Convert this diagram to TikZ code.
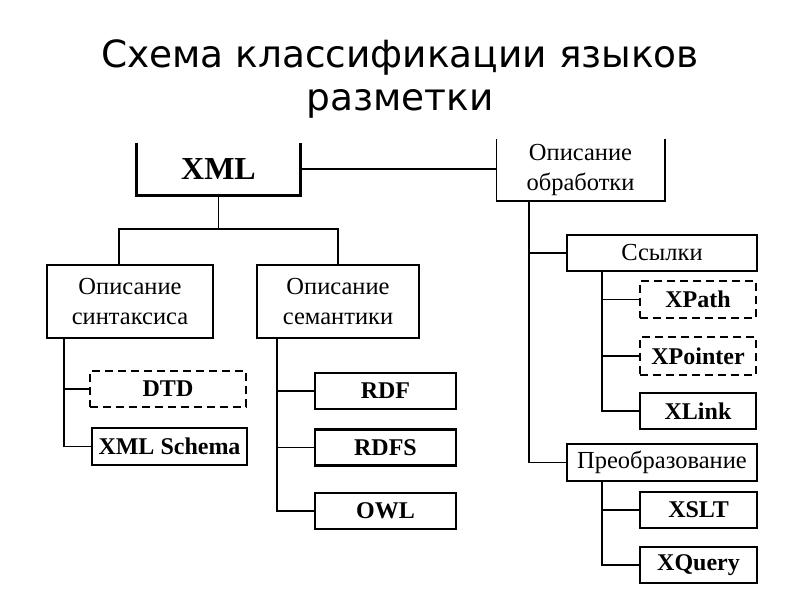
\documentclass[tikz,border=0pt]{standalone}
\usepackage{fontspec}
\setmainfont{Liberation Serif}
\newfontfamily\titlefont{DejaVu Sans}
\usepackage{tikz}
\usetikzlibrary{positioning,calc}

\begin{document}
\begin{tikzpicture}[
    x=1pt, y=-1pt,
    font=\fontsize{24.5}{30}\selectfont,
    group/.style={draw, line width=1.5pt, align=center, inner sep=0pt},
    leaf/.style={draw, line width=2.8pt, minimum width=141pt, minimum height=36pt, inner sep=0pt, font=\fontsize{24}{27}\selectfont\bfseries},
    optleaf/.style={leaf, dashed, dash pattern=on 8pt off 5pt},
    link/.style={line width=1.6pt}
]
\useasboundingbox (0,0) rectangle (800,600);

% Title
\node[font=\titlefont\fontsize{37.5}{43}\selectfont, align=center] (title) at (400,79) {Схема классификации языков\\разметки};

% Root and processing
\node[minimum width=163pt, minimum height=52pt, inner sep=0pt, font=\fontsize{32}{35}\selectfont\bfseries] (xml) at (218.5,169) {XML};
\draw[line width=3pt] (xml.north west) -- (xml.south west) -- (xml.south east) -- (xml.north east);
\node[group, draw=none, minimum width=167pt, minimum height=60pt] (obr) at (580.5,170) {Описание\\обработки};
\draw[line width=1.5pt] (obr.north west) -- (obr.south west) -- (obr.south east) -- (obr.north east);
\draw[link] (xml.east) -- (xml.east -| obr.west);

% Syntax and semantics
\node[group, minimum width=166pt, minimum height=73pt] (syn) at (130,301.5) {Описание\\синтаксиса};
\node[group, minimum width=162pt, minimum height=73pt] (sem) at (338,301.5) {Описание\\семантики};
\draw[link] (xml.south) -- ++(0,34) coordinate (hub);
\draw[link] (hub) -| ([xshift=-11pt]syn.north);
\draw[link] (hub) -| (sem.north);

\node[optleaf, minimum width=156pt] (dtd) at (168,389) {DTD};
\node[leaf, minimum width=155pt, minimum height=37pt] (xsd) at (169.5,446.5) {XML Schema};
\draw[link] ([xshift=18pt]syn.south west) |- (dtd.west);
\draw[link] ([xshift=18pt]syn.south west) |- (xsd.west);

\node[leaf] (rdf) at (385.5,391) {RDF};
\node[leaf] (rdfs) at (385.5,447.5) {RDFS};
\node[leaf] (owl) at (385.5,511) {OWL};
\draw[link] ([xshift=21pt]sem.south west) |- (rdf.west);
\draw[link] ([xshift=21pt]sem.south west) |- (rdfs.west);
\draw[link] ([xshift=21pt]sem.south west) |- (owl.west);

% Processing branch
\node[group, minimum width=190pt, minimum height=36pt] (ssyl) at (662,253) {Ссылки};
\node[group, minimum width=190pt, minimum height=37pt] (preobr) at (662,462.5) {Преобразование};
\draw[link] ([xshift=33pt]obr.south west) |- (ssyl.west);
\draw[link] ([xshift=33pt]obr.south west) |- (preobr.west);

\node[optleaf, minimum width=116pt, minimum height=37pt] (xpath) at (698,299.5) {XPath};
\node[optleaf, minimum width=116pt, minimum height=38pt] (xpointer) at (698,356) {XPointer};
\node[leaf, minimum width=116pt] (xlink) at (698,411) {XLink};
\draw[link] ([xshift=36pt]ssyl.south west) |- (xpath.west);
\draw[link] ([xshift=36pt]ssyl.south west) |- (xpointer.west);
\draw[link] ([xshift=36pt]ssyl.south west) |- (xlink.west);

\node[leaf, minimum width=117pt] (xslt) at (698.5,510) {XSLT};
\node[leaf, minimum width=117pt] (xquery) at (698.5,565) {XQuery};
\draw[link] ([xshift=36pt]preobr.south west) |- (xslt.west);
\draw[link] ([xshift=36pt]preobr.south west) |- (xquery.west);

\end{tikzpicture}
\end{document}
